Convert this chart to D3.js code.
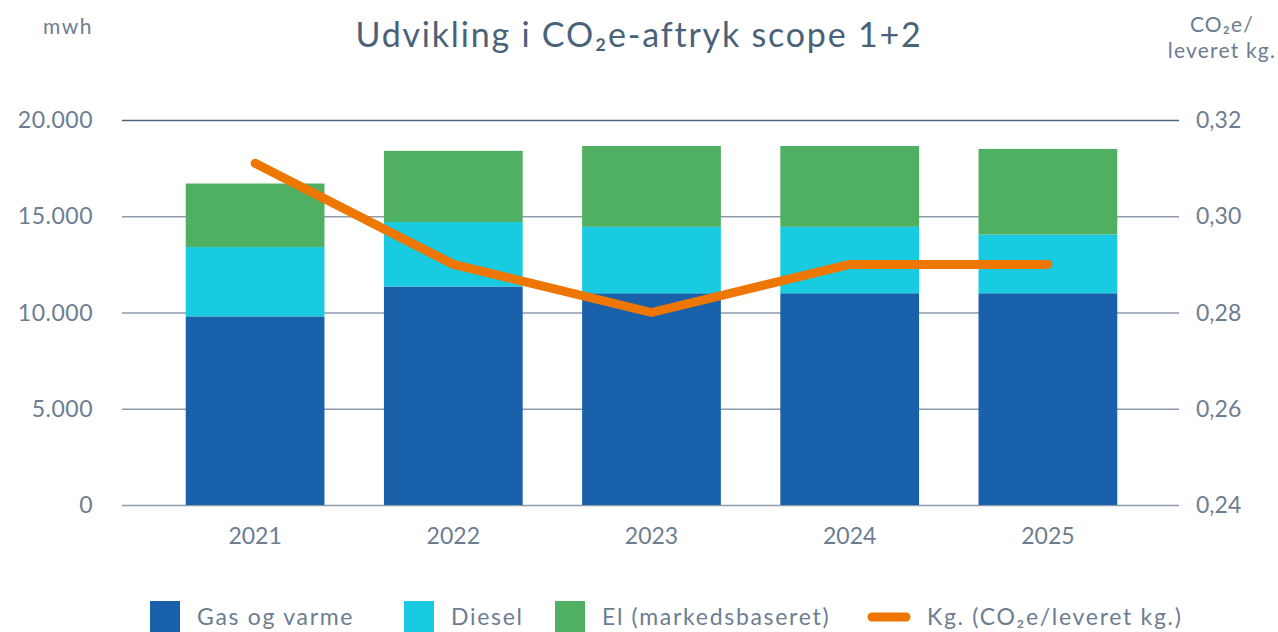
<!DOCTYPE html>
<html>
<head>
<meta charset="utf-8">
<script src="https://cdn.jsdelivr.net/npm/d3@7"></script>
<style>
  html, body { margin: 0; padding: 0; background: #fff; }
  svg { display: block; font-family: Lato, "Noto Sans", sans-serif; }
</style>
</head>
<body>
<div id="chart"></div>
<script>
// ---- Data ----
const years = ['2021', '2022', '2023', '2024', '2025'];
const gasVarme = [9800, 11350, 11000, 11000, 11000];
const diesel = [3600, 3350, 3450, 3450, 3050];
const elMarked = [3300, 3700, 4200, 4200, 4450];
const kgPerKg = [0.311, 0.29, 0.28, 0.29, 0.29];
const leftTicks = [0, 5000, 10000, 15000, 20000];
const rightTicks = [0.24, 0.26, 0.28, 0.30, 0.32];

const seriesNames = ['Gas og varme', 'Diesel', 'El (markedsbaseret)'];
const lineName = 'Kg. (CO₂e/leveret kg.)';

// ---- Style ----
const W = 1278, H = 632;
const colors = { gas: '#1a61ab', diesel: '#18cbe0', el: '#4faf62', line: '#ee7703' };
const textColor = '#6d7d90';
const titleColor = '#4a6278';

const rows = years.map((y, i) => ({ year: y, gas: gasVarme[i], diesel: diesel[i], el: elMarked[i] }));
const keys = ['gas', 'diesel', 'el'];
const stacked = d3.stack().keys(keys)(rows);

const svg = d3.select('#chart').append('svg')
  .attr('width', W).attr('height', H);

// ---- Scales ----
const x = d3.scaleBand().domain(years).range([156, 1147]).paddingInner(0.3).paddingOuter(0.15);
const yL = d3.scaleLinear().domain([0, 20000]).range([505, 120]);
const yR = d3.scaleLinear().domain([0.24, 0.32]).range([505, 120]);

// gridlines
svg.append('g').selectAll('line').data(leftTicks).join('line')
  .attr('x1', 122).attr('x2', 1179)
  .attr('y1', d => yL(d) + 0.5).attr('y2', d => yL(d) + 0.5)
  .attr('stroke', d => d === 20000 ? '#4d6680' : '#8e9bab')
  .attr('stroke-width', d => d === 20000 ? 1.3 : 1.6);

// left axis labels
const fmtL = d => d3.format(',')(d).replace(/,/g, '.');
svg.append('g').selectAll('text').data(leftTicks).join('text')
  .attr('x', 93).attr('y', d => yL(d))
  .attr('dy', '0.35em')
  .attr('text-anchor', 'end')
  .attr('fill', textColor)
  .style('font-size', '23px')
  .style('letter-spacing', '0.5px')
  .text(fmtL);

// right axis labels
const fmtR = d => d3.format('.2f')(d).replace('.', ',');
svg.append('g').selectAll('text').data(rightTicks).join('text')
  .attr('x', 1196).attr('y', d => yR(d))
  .attr('dy', '0.35em')
  .attr('fill', textColor)
  .style('font-size', '23px')
  .text(fmtR);

// bars
svg.append('g').selectAll('g').data(stacked).join('g')
  .attr('fill', d => colors[d.key])
  .selectAll('rect').data(d => d).join('rect')
  .attr('x', d => x(d.data.year))
  .attr('width', x.bandwidth())
  .attr('y', d => yL(d[1]))
  .attr('height', d => yL(d[0]) - yL(d[1]));

// line
const line = d3.line()
  .x((d, i) => x(years[i]) + x.bandwidth() / 2)
  .y(d => yR(d));
svg.append('path')
  .datum(kgPerKg)
  .attr('d', line)
  .attr('fill', 'none')
  .attr('stroke', colors.line)
  .attr('stroke-width', 9)
  .attr('stroke-linecap', 'round')
  .attr('stroke-linejoin', 'round');

// x labels
svg.append('g').selectAll('text').data(years).join('text')
  .attr('x', d => x(d) + x.bandwidth() / 2)
  .attr('y', 536).attr('dy', '0.35em')
  .attr('text-anchor', 'middle')
  .attr('fill', textColor)
  .style('font-size', '23px')
  .text(d => d);

// title + axis units
svg.append('text')
  .attr('x', 639).attr('y', 35).attr('dy', '0.35em')
  .attr('text-anchor', 'middle')
  .attr('fill', titleColor)
  .style('font-size', '34px')
  .style('letter-spacing', '1.8px')
  .text('Udvikling i CO₂e-aftryk scope 1+2');

svg.append('text')
  .attr('x', 93).attr('y', 27).attr('dy', '0.35em')
  .attr('text-anchor', 'end')
  .attr('fill', textColor)
  .style('font-size', '21px')
  .style('letter-spacing', '1.5px')
  .text('mwh');

const unitR = svg.append('text')
  .attr('text-anchor', 'middle')
  .attr('fill', textColor)
  .style('font-size', '21px')
  .style('letter-spacing', '1.2px');
unitR.append('tspan').attr('x', 1222).attr('y', 32).text('CO₂e/');
unitR.append('tspan').attr('x', 1222).attr('y', 58).text('leveret kg.');

// legend
const legendItems = [
  { name: seriesNames[0], color: colors.gas, type: 'rect', x: 150 },
  { name: seriesNames[1], color: colors.diesel, type: 'rect', x: 404 },
  { name: seriesNames[2], color: colors.el, type: 'rect', x: 555 },
  { name: lineName, color: colors.line, type: 'line', x: 868 }
];
const lg = svg.append('g').selectAll('g').data(legendItems).join('g')
  .attr('transform', d => `translate(${d.x},617)`);
lg.filter(d => d.type === 'rect').append('rect')
  .attr('x', 0).attr('y', -16).attr('width', 30).attr('height', 32)
  .attr('fill', d => d.color);
lg.filter(d => d.type === 'line').append('line')
  .attr('x1', 4).attr('x2', 38).attr('y1', 0).attr('y2', 0)
  .attr('stroke', d => d.color).attr('stroke-width', 9).attr('stroke-linecap', 'round');
lg.append('text')
  .attr('x', d => d.type === 'line' ? 59 : 47)
  .attr('y', 0).attr('dy', '0.35em')
  .attr('fill', textColor)
  .style('font-size', '23px')
  .style('letter-spacing', '1.7px')
  .text(d => d.name);
</script>
</body>
</html>
